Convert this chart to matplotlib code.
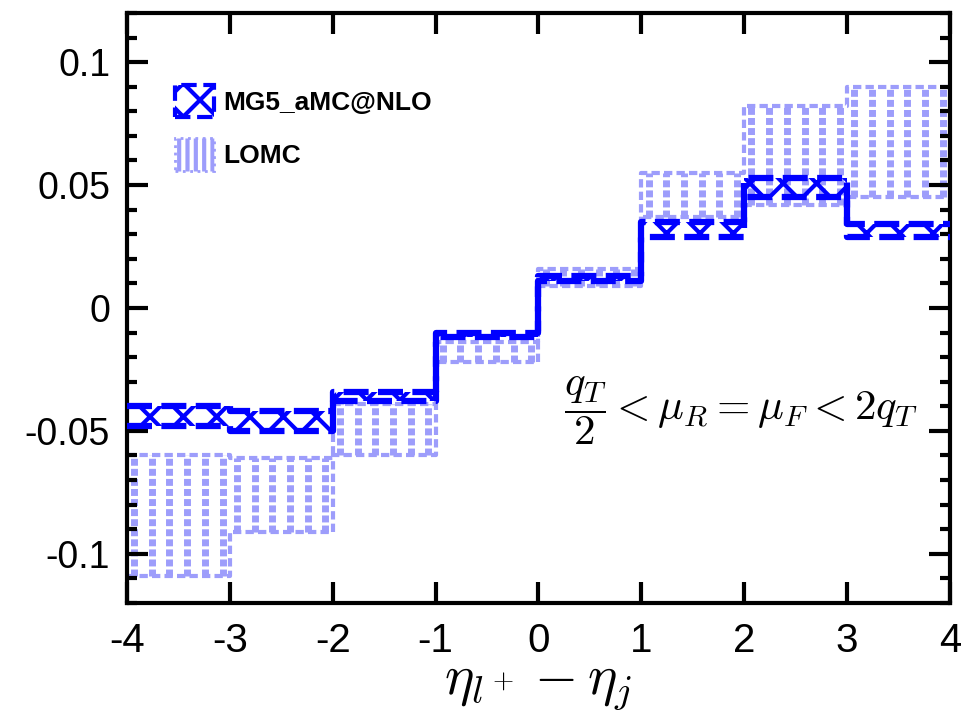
import numpy as np
import matplotlib
matplotlib.use("Agg")
import matplotlib.pyplot as plt
from matplotlib.patches import Patch
from matplotlib.ticker import MultipleLocator, FuncFormatter

plt.rcParams['font.family'] = ['Liberation Sans', 'DejaVu Sans']
plt.rcParams['mathtext.fontset'] = 'cm'
plt.rcParams['axes.unicode_minus'] = False
plt.rcParams['hatch.linewidth'] = 3.0

# bin edges of eta_l+ - eta_j
edges = [-4, -3, -2, -1, 0, 1, 2, 3, 4]

# MG5_aMC@NLO scale band (lower, upper)
mg5_lo = [-0.048, -0.050, -0.038, -0.012, 0.011, 0.029, 0.045, 0.029]
mg5_hi = [-0.040, -0.042, -0.034, -0.010, 0.013, 0.035, 0.053, 0.034]

# LOMC scale band (lower, upper)
lomc_lo = [-0.109, -0.091, -0.060, -0.022, 0.009, 0.037, 0.042, 0.045]
lomc_hi = [-0.060, -0.061, -0.039, -0.014, 0.016, 0.055, 0.082, 0.090]

blue = '#0000ff'
light = '#9d9dfb'

fig = plt.figure(figsize=(9.61, 7.2), dpi=100)
ax = fig.add_axes([0.132, 0.1625, 0.8566, 0.8195])

# LOMC: dotted square texture inside each bin
for i in range(len(edges) - 1):
    x0, x1 = edges[i], edges[i + 1]
    xs = np.linspace(x0 + 0.07, x1 - 0.07, 6)
    ax.vlines(xs, lomc_lo[i], lomc_hi[i], colors=light, lw=5,
              linestyles=(0, (1, 0.45)), zorder=1)
x_step = np.array(edges)
lo_s = np.append(lomc_lo, lomc_lo[-1])
hi_s = np.append(lomc_hi, lomc_hi[-1])
ax.step(x_step, lo_s, where='post', color=light, lw=3, ls=(0, (2, 1)), zorder=1)
ax.step(x_step, hi_s, where='post', color=light, lw=3, ls=(0, (2, 1)), zorder=1)

# MG5_aMC@NLO band
mlo = np.append(mg5_lo, mg5_lo[-1])
mhi = np.append(mg5_hi, mg5_hi[-1])
ax.fill_between(x_step, mlo, mhi, step='post', facecolor='none',
                edgecolor=blue, hatch='x', lw=0, zorder=2)
ax.step(x_step, mlo, where='post', color=blue, lw=4.5, ls=(0, (4, 1.5)), zorder=3)
ax.step(x_step, mhi, where='post', color=blue, lw=4.5, ls=(0, (4, 1.5)), zorder=3)

ax.text(1.97, -0.042, r'$\dfrac{q_T}{2} < \mu_R = \mu_F < 2q_T$',
        fontsize=31, ha='center', va='center')

ax.set_xlim(-4, 4)
ax.set_ylim(-0.12, 0.12)
ax.xaxis.set_major_locator(MultipleLocator(1))
ax.yaxis.set_major_locator(MultipleLocator(0.05))
ax.yaxis.set_minor_locator(MultipleLocator(0.01))
ax.yaxis.set_major_formatter(FuncFormatter(lambda v, p: '%g' % round(v, 3)))
ax.tick_params(which='both', direction='in', top=True, right=True, width=3)
ax.tick_params(which='major', length=15)
ax.tick_params(which='minor', length=7)
ax.tick_params(axis='y', labelsize=27, pad=12)
ax.tick_params(axis='x', labelsize=29, pad=14)
for s in ax.spines.values():
    s.set_linewidth(3)

ax.set_xlabel(r'$\eta_{l^+} - \eta_j$', fontsize=40, labelpad=0)

handles = [Patch(facecolor='none', edgecolor=blue, hatch='x', lw=3, ls='--'),
           Patch(facecolor='none', edgecolor=light, hatch='||', lw=2, ls=':')]
leg = ax.legend(handles, ['MG5_aMC@NLO', 'LOMC'], loc='upper left',
                bbox_to_anchor=(0.043, 0.9), frameon=False, borderpad=0,
                prop={'weight': 'bold', 'size': 19}, handlelength=1.45,
                handleheight=1.5, labelspacing=0.8, handletextpad=0.35)

fig.savefig('out.png', dpi=100)
